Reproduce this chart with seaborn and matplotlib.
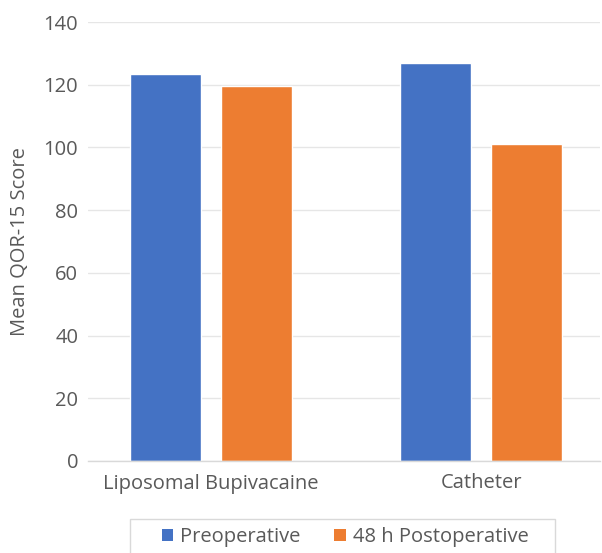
import matplotlib
matplotlib.use("Agg")
import matplotlib.pyplot as plt
import seaborn as sns
import pandas as pd
from matplotlib.patches import Patch, Rectangle

categories = ["Liposomal Bupivacaine", "Catheter"]
series = ["Preoperative", "48 h Postoperative"]
preoperative = [123.3, 126.8]
postoperative = [119.5, 101.1]
yticks = [0, 20, 40, 60, 80, 100, 120, 140]

df = pd.DataFrame({
    "group": categories * 2,
    "time": [series[0]] * 2 + [series[1]] * 2,
    "score": preoperative + postoperative,
})

sns.set_theme(style="white")
plt.rcParams["font.family"] = ["Open Sans", "DejaVu Sans"]

colors = ["#4472C4", "#ED7D31"]
fig = plt.figure(figsize=(6.02, 5.53), dpi=100)
ax = fig.add_axes([88 / 602, (553 - 461) / 553, (600 - 88) / 602, 439 / 553])

sns.barplot(data=df, x="group", y="score", hue="time", order=categories,
            hue_order=series, palette=colors, width=0.674, gap=0.22,
            saturation=1, ax=ax, legend=False)

ax.set_ylim(0, 140)
ax.set_xlim(-0.456, 1.44)
ax.set_yticks(yticks)
ax.yaxis.grid(True, color="#E6E6E6", linewidth=1)
ax.set_axisbelow(True)
for s in ["top", "right", "left"]:
    ax.spines[s].set_visible(False)
ax.spines["bottom"].set_color("#D9D9D9")
ax.spines["bottom"].set_linewidth(1)
ax.tick_params(axis="both", length=0, labelsize=14.5, colors="#595959")
ax.tick_params(axis="x", pad=9)
ax.tick_params(axis="y", pad=7)
ax.set_xlabel("")
ax.set_ylabel("Mean QOR-15 Score", fontsize=14.5, color="#595959", labelpad=10)

# legend frame (wide, extends below the figure edge as in the reference)
fig.patches.append(Rectangle((130 / 602, -10 / 553), 425 / 602, (553 - 519 + 10) / 553,
                             transform=fig.transFigure, facecolor="white",
                             edgecolor="#D9D9D9", linewidth=1, zorder=1))

handles = [Patch(facecolor=c, edgecolor="none") for c in colors]
leg = fig.legend(handles, series, loc="center", bbox_to_anchor=(345 / 602, 1 - 537 / 553),
                 ncol=2, frameon=False, fontsize=14.5, handlelength=0.55, handleheight=0.55,
                 handletextpad=0.35, columnspacing=1.7, borderpad=0.3,
                 labelcolor="#595959")
leg.set_zorder(2)

fig.savefig("out.png", dpi=100)
